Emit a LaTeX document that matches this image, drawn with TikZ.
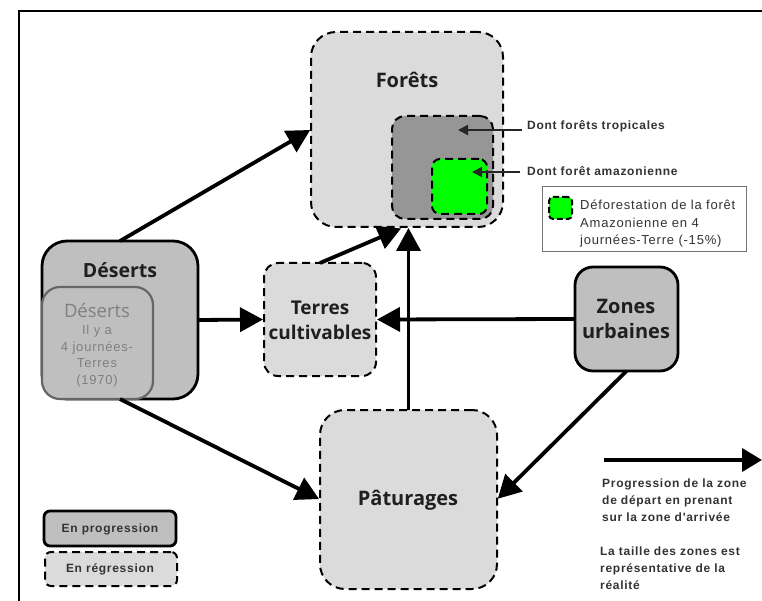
\documentclass[tikz,border=0pt]{standalone}
\usepackage{fontspec}
\setmainfont{Liberation Sans}
\newfontfamily\headfont{Open Sans}
\newfontfamily\fadefont{Open Sans}
\newfontfamily\smallfont[LetterSpace=6]{Liberation Sans}
\usetikzlibrary{arrows.meta,calc}
\definecolor{pale}{gray}{0.86}
\definecolor{mid}{gray}{0.75}
\definecolor{tropic}{gray}{0.59}
\definecolor{inktext}{gray}{0.12}
\tikzset{
  x=1pt,y=-1pt,
  zone/.style={rectangle,inner sep=0pt,outer sep=0pt,line width=2pt,anchor=north west},
  regress/.style={zone,draw=black,fill=pale,dash pattern=on 8pt off 5pt},
  progress/.style={zone,draw=black,fill=mid,line width=2.8pt},
  big/.style={line width=3.8pt,-{Triangle[length=23pt,width=24pt]},shorten >=1pt},
  thin arrow/.style={line width=2pt,draw=black!85,-{Triangle[length=10pt,width=10pt]}},
  head/.style={font=\headfont\bfseries\fontsize{20}{25}\selectfont,text=inktext,align=center,inner sep=0pt},
  note/.style={font=\smallfont\bfseries\fontsize{12}{17}\selectfont,text=black!80,align=left,inner sep=0pt,anchor=west},
  fade/.style={font=\smallfont\fontsize{13}{16.5}\selectfont,text=black!50,align=center,inner sep=0pt},
}
\begin{document}
\begin{tikzpicture}
\useasboundingbox (0,0) rectangle (762,601);
\fill[white] (0,0) rectangle (762,601);
\coordinate (frameA) at (19,601);
\coordinate (frameB) at (19,11);
\coordinate (frameC) at (762,11);
\draw[line width=2pt,line cap=rect] (frameA) -- (frameB) -- (frameC);

% zones
\node[regress,rounded corners=25pt,minimum width=192pt,minimum height=195pt] (for) at (311,32) {};
\node[zone,draw=black,fill=tropic,dash pattern=on 8pt off 5pt,rounded corners=13pt,minimum width=101pt,minimum height=103pt] (trop) at (392,116) {};
\node[zone,draw=black,fill=green,dash pattern=on 8pt off 5pt,rounded corners=8pt,minimum width=55pt,minimum height=55pt] (amaz) at (432,159) {};
\node[progress,rounded corners=25pt,minimum width=156pt,minimum height=158pt] (des) at (42,241) {};
\node[zone,draw=black!60,fill=mid,rounded corners=18pt,line width=2.2pt,minimum width=111pt,minimum height=112pt] (desold) at (42,287) {};
\node[regress,rounded corners=14pt,minimum width=112pt,minimum height=113pt] (ter) at (264,263) {};
\node[progress,rounded corners=18pt,minimum width=103pt,minimum height=104pt] (urb) at (575,267) {};
\node[regress,rounded corners=25pt,minimum width=177pt,minimum height=179pt] (pat) at (320,410) {};

% legend boxes
\node[progress,rounded corners=6pt,minimum width=132pt,minimum height=35pt] (lgp) at (44,511) {};
\node[regress,rounded corners=6pt,minimum width=132pt,minimum height=34pt] (lgr) at (45,552) {};
\node[zone,draw=black!55,fill=white,line width=1pt,minimum width=204pt,minimum height=65pt] (lgd) at (542,187) {};
\node[zone,draw=black,fill=green,dash pattern=on 6pt off 3pt,rounded corners=4pt,minimum width=23pt,minimum height=22pt] (lgg) at (549,197) {};

% connectors
\draw[big] (des.north) -- (for.west);
\draw[big] (des.east) -- (ter.west);
\draw[big] (des.south) -- (pat.west);
\draw[big] (ter.north) -- ($(for.south)+(-5,1)$);
\draw[big] (pat.north) -- (pat.north |- for.south);
\draw[big] (urb.west) -- (ter.east);
\draw[big] (urb.south) -- (pat.east);
\coordinate (keyA) at (604,460);
\coordinate (keyB) at (762,460);
\draw[big,shorten >=0pt,-{Triangle[length=20pt,width=23pt]}] (keyA) -- (keyB);

% texts
\node[head] (tfor) at (407,80) {Forêts};
\node[head,font=\headfont\bfseries\fontsize{19.5}{25}\selectfont] (tdes) at (120,270) {Déserts};
\node[head,font=\headfont\bfseries\fontsize{19}{25}\selectfont] (tter) at (320,320) {Terres\\cultivables};
\node[head] (turb) at (626,319) {Zones\\urbaines};
\node[head] (tpat) at (408,500) {Pâturages};
\node[fade,font=\fadefont\fontsize{18.5}{20}\selectfont] (told1) at (97,311) {Déserts};
\node[fade] (told2) at (97,356) {Il y a\\4 journées-\\Terres\\(1970)};

\node[note] (ntrop) at (527,126) {Dont forêts tropicales};
\node[note] (nama) at (527,171) {Dont forêt amazonienne};
\coordinate (ntropE) at (522,130);
\coordinate (namaE) at (520,172);
\draw[thin arrow] (ntropE) -- (458,130);
\draw[thin arrow] (namaE) -- (472,172);

\node[note,font=\smallfont\fontsize{13}{17.5}\selectfont] (ndef) at (580,224) {Déforestation de la forêt\\Amazonienne en 4\\journées-Terre (-15\%)};
\node[note,anchor=center,align=center] (tlgp) at (110,529) {En progression};
\node[note,anchor=center,align=center] (tlgr) at (110,569) {En régression};
\node[note] (nprog) at (602,500) {Progression de la zone\\de départ en prenant\\sur la zone d'arrivée};
\node[note] (ntaille) at (600,568) {La taille des zones est\\représentative de la\\réalité};
\end{tikzpicture}
\end{document}
